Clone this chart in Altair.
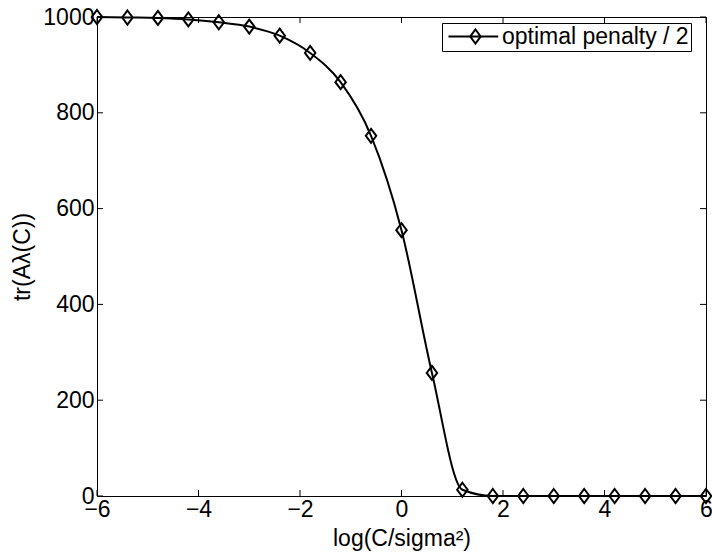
import altair as alt
import pandas as pd

# data
xs = [-6.0, -5.4, -4.8, -4.2, -3.6, -3.0, -2.4, -1.8, -1.2, -0.6, 0.0,
      0.6, 1.2, 1.8, 2.4, 3.0, 3.6, 4.2, 4.8, 5.4, 6.0]
ys = [1000, 999, 998, 995, 989, 980, 961, 925, 864, 752, 555,
      257, 13, 0, 0, 0, 0, 0, 0, 0, 0]
series_name = ["optimal penalty / 2"]
x_ticks = [-6, -4, -2, 0, 2, 4, 6]
y_ticks = [0, 200, 400, 600, 800, 1000]

FONT = "Liberation Sans"
FS = 23
W, H = 609, 479

df = pd.DataFrame({"x": xs, "y": ys, "s": series_name * len(xs)})
dfx = pd.DataFrame({"x": x_ticks})
dfy = pd.DataFrame({"y": y_ticks})

xscale = alt.Scale(domain=[-6, 6], nice=False, zero=False)
yscale = alt.Scale(domain=[0, 1000], nice=False, zero=False)
xaxis = alt.Axis(values=x_ticks, ticks=False, domain=False, grid=False, format="d",
                 labelFont=FONT, labelFontSize=FS, labelColor="black",
                 labelPadding=2, labelFlush=False, labelOverlap=False,
                 titleFont=FONT, titleFontSize=FS, titleFontWeight="normal",
                 titleColor="black", titlePadding=6)
yaxis = alt.Axis(values=y_ticks, ticks=False, domain=False, grid=False, format="d",
                 labelFont=FONT, labelFontSize=FS, labelColor="black",
                 labelPadding=3, labelFlush=False, labelOverlap=False,
                 titleFont=FONT, titleFontSize=FS, titleFontWeight="normal",
                 titleColor="black", titlePadding=8)

X = alt.X("x:Q", scale=xscale, axis=xaxis, title="log(C/sigma²)")
Y = alt.Y("y:Q", scale=yscale, axis=yaxis, title="tr(Aλ(C))")

legend_symbol = "M-1,0H6.1M2.85,-1L3.6,0L2.85,1L2.1,0Z"

color = alt.Color("s:N", scale=alt.Scale(range=["black"]),
                  legend=alt.Legend(title=None, orient="none", legendX=345, legendY=6,
                                    symbolType=legend_symbol, symbolSize=196,
                                    symbolStrokeWidth=2, symbolStrokeColor="black",
                                    symbolFillColor="transparent",
                                    labelFont=FONT, labelFontSize=FS, labelColor="black",
                                    labelOffset=35, labelLimit=0, padding=2,
                                    strokeColor="black", fillColor="white"))

line = alt.Chart(df).mark_line(strokeWidth=2, interpolate="monotone", color="black").encode(
    x=X, y=Y, color=color)
pts = alt.Chart(df).mark_point(shape="M0,-1L0.75,0L0,1L-0.75,0Z", size=196, filled=False,
                               strokeWidth=2, color="black", opacity=1).encode(
    x=X, y=Y, color=alt.Color("s:N", scale=alt.Scale(range=["black"]), legend=None))

tb = alt.Chart(dfx).mark_rule(color="black", strokeWidth=1).encode(
    x=X, y=alt.value(H), y2=alt.value(H - 6))
tt = alt.Chart(dfx).mark_rule(color="black", strokeWidth=1).encode(
    x=X, y=alt.value(0), y2=alt.value(6))
tl = alt.Chart(dfy).mark_rule(color="black", strokeWidth=1).encode(
    y=Y, x=alt.value(0), x2=alt.value(6))
tr = alt.Chart(dfy).mark_rule(color="black", strokeWidth=1).encode(
    y=Y, x=alt.value(W), x2=alt.value(W - 6))

chart = alt.layer(tb, tt, tl, tr, line, pts).properties(
    width=W, height=H,
    autosize=alt.AutoSizeParams(type="none"),
    padding={"left": 97, "top": 17, "right": 6, "bottom": 62},
    background="white",
).configure_view(stroke="black", strokeWidth=1)

chart.save("out.html", embed_options={"renderer": "svg", "actions": False})
